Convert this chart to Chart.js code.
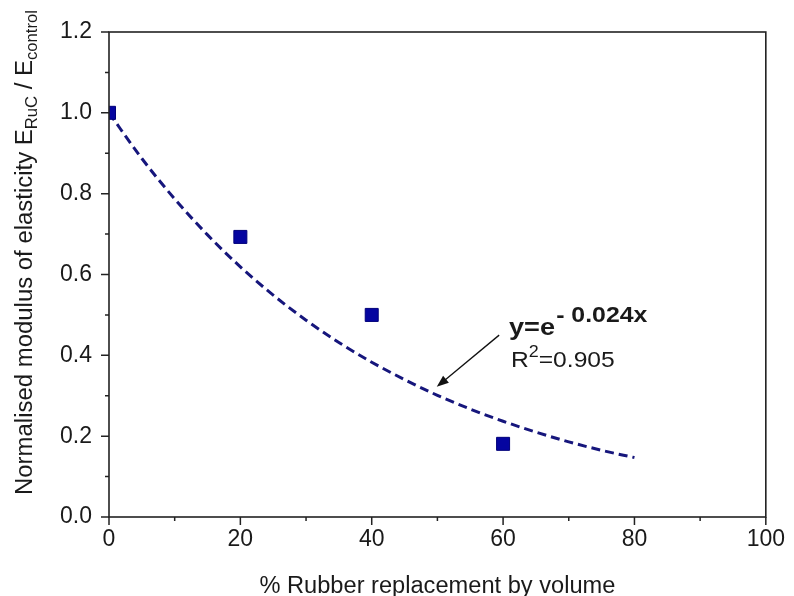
<!DOCTYPE html>
<html>
<head>
<meta charset="utf-8">
<script src="https://cdn.jsdelivr.net/npm/chart.js@4/dist/chart.umd.min.js"></script>
<style>
  html, body { margin: 0; padding: 0; background: #fff; }
  #wrap { width: 794px; height: 596px; }
</style>
</head>
<body>
<div id="wrap"><canvas id="c" width="794" height="596"></canvas></div>
<script>
// Measured points
const rubberPct = [0, 20, 40, 60];
const normModulus = [1.00, 0.693, 0.50, 0.181];

// Fitted curve
const fitX = [0, 5, 10, 15, 20, 25, 30, 35, 40, 45, 50, 55, 60, 65, 70, 75, 80];
const fitY = [1.000, 0.887, 0.787, 0.698, 0.619, 0.549, 0.487, 0.432, 0.383, 0.340, 0.301, 0.267, 0.237, 0.210, 0.186, 0.165, 0.147];

// Tick labels
const xMajorTicks = [0, 20, 40, 60, 80, 100];
const xMinorTicks = [10, 30, 50, 70, 90];
const yMajorTicks = [0.0, 0.2, 0.4, 0.6, 0.8, 1.0, 1.2];
const yMinorTicks = [0.1, 0.3, 0.5, 0.7, 0.9, 1.1];

// Text
const xTitle = '% Rubber replacement by volume';
const yTitleParts = [
  { t: 'Normalised modulus of elasticity E', sub: false },
  { t: 'RuC', sub: true },
  { t: ' / E', sub: false },
  { t: 'control', sub: true }
];
const eqMain = 'y=e';
const eqExp = '- 0.024x';
const r2Main = 'R';
const r2Sup = '2';
const r2Rest = '=0.905';
// annotation anchors in data units
const eqAnchor = { x: 60.9, y: 0.45 };
const r2Anchor = { x: 61.2, y: 0.371 };
const arrowFrom = { x: 59.4, y: 0.45 };
const arrowTo = { x: 49.9, y: 0.322 };

const FONT = '"Liberation Sans", Arial, sans-serif';
const TEXT = '#1a1a1a';
const AXIS = '#222';

const points = rubberPct.map((x, i) => ({ x, y: normModulus[i] }));
const fit = fitX.map((x, i) => ({ x, y: fitY[i] }));

const decor = {
  id: 'decor',
  afterDatasetsDraw(chart) {
    const ctx = chart.ctx;
    const a = chart.chartArea;
    const xs = chart.scales.x, ys = chart.scales.y;
    ctx.save();
    // frame
    ctx.strokeStyle = AXIS;
    ctx.lineWidth = 1.6;
    ctx.strokeRect(a.left, a.top, a.right - a.left, a.bottom - a.top);
    // ticks
    ctx.lineWidth = 1.5;
    ctx.beginPath();
    xMajorTicks.forEach(v => { const p = xs.getPixelForValue(v); ctx.moveTo(p, a.bottom); ctx.lineTo(p, a.bottom + 8); });
    xMinorTicks.forEach(v => { const p = xs.getPixelForValue(v); ctx.moveTo(p, a.bottom); ctx.lineTo(p, a.bottom + 4); });
    yMajorTicks.forEach(v => { const p = ys.getPixelForValue(v); ctx.moveTo(a.left, p); ctx.lineTo(a.left - 8, p); });
    yMinorTicks.forEach(v => { const p = ys.getPixelForValue(v); ctx.moveTo(a.left, p); ctx.lineTo(a.left - 4, p); });
    ctx.stroke();

    // x title
    ctx.fillStyle = TEXT;
    ctx.font = '23px ' + FONT;
    ctx.textBaseline = 'alphabetic';
    const xw = ctx.measureText(xTitle).width;
    const xTarget = 356;
    const xsx = xTarget / xw;
    ctx.save();
    ctx.translate((a.left + a.right) / 2 - xTarget / 2, 593);
    ctx.scale(xsx, 1);
    ctx.textAlign = 'left';
    ctx.fillText(xTitle, 0, 0);
    ctx.restore();

    // y title (rotated, with subscripts)
    const mainF = '23px ' + FONT, subF = '16px ' + FONT;
    let total = 0;
    yTitleParts.forEach(p => { ctx.font = p.sub ? subF : mainF; total += ctx.measureText(p.t).width; });
    const yTarget = 485;
    const ysx = yTarget / total;
    ctx.save();
    ctx.translate(32, 495);
    ctx.rotate(-Math.PI / 2);
    ctx.scale(ysx, 1);
    ctx.textAlign = 'left';
    let cx = 0;
    yTitleParts.forEach(p => {
      ctx.font = p.sub ? subF : mainF;
      ctx.fillText(p.t, cx, p.sub ? 5 : 0);
      cx += ctx.measureText(p.t).width;
    });
    ctx.restore();

    // equation annotation
    const ex = xs.getPixelForValue(eqAnchor.x), ey = ys.getPixelForValue(eqAnchor.y);
    ctx.save();
    ctx.translate(ex, ey);
    ctx.scale(1.13, 1);
    ctx.font = 'bold 24px ' + FONT;
    ctx.fillText(eqMain, 0, 0);
    const w1 = ctx.measureText(eqMain).width;
    ctx.font = 'bold 22px ' + FONT;
    ctx.fillText(eqExp, w1 + 1, -13);
    ctx.restore();

    const rx = xs.getPixelForValue(r2Anchor.x), ry = ys.getPixelForValue(r2Anchor.y);
    ctx.save();
    ctx.translate(rx, ry);
    ctx.scale(1.12, 1);
    ctx.font = '22px ' + FONT;
    ctx.fillText(r2Main, 0, 0);
    let rw = ctx.measureText(r2Main).width;
    ctx.font = '16px ' + FONT;
    ctx.fillText(r2Sup, rw, -10);
    rw += ctx.measureText(r2Sup).width;
    ctx.font = '22px ' + FONT;
    ctx.fillText(r2Rest, rw, 0);
    ctx.restore();

    // arrow
    const ax0 = xs.getPixelForValue(arrowFrom.x), ay0 = ys.getPixelForValue(arrowFrom.y);
    const ax1 = xs.getPixelForValue(arrowTo.x), ay1 = ys.getPixelForValue(arrowTo.y);
    const ang = Math.atan2(ay1 - ay0, ax1 - ax0);
    const hl = 12, hw = 4.5;
    ctx.strokeStyle = '#111';
    ctx.lineWidth = 1.3;
    ctx.beginPath();
    ctx.moveTo(ax0, ay0);
    ctx.lineTo(ax1 - Math.cos(ang) * hl * 0.8, ay1 - Math.sin(ang) * hl * 0.8);
    ctx.stroke();
    ctx.fillStyle = '#111';
    ctx.beginPath();
    ctx.moveTo(ax1, ay1);
    ctx.lineTo(ax1 - Math.cos(ang) * hl - Math.sin(ang) * hw, ay1 - Math.sin(ang) * hl + Math.cos(ang) * hw);
    ctx.lineTo(ax1 - Math.cos(ang) * hl + Math.sin(ang) * hw, ay1 - Math.sin(ang) * hl - Math.cos(ang) * hw);
    ctx.closePath();
    ctx.fill();
    ctx.restore();
  }
};

new Chart(document.getElementById('c'), {
  type: 'scatter',
  data: {
    datasets: [
      {
        label: 'fit',
        data: fit,
        showLine: true,
        borderColor: '#16167c',
        borderWidth: 3,
        borderDash: [9, 5],
        pointRadius: 0,
        cubicInterpolationMode: 'monotone',
        order: 2
      },
      {
        label: 'measured',
        data: points,
        pointStyle: 'rect',
        pointRadius: 9.2,
        backgroundColor: '#0505a0',
        borderColor: '#00007a',
        borderWidth: 1,
        order: 1
      }
    ]
  },
  options: {
    responsive: false,
    animation: false,
    devicePixelRatio: 1,
    layout: { padding: { left: 0, right: 22, top: 32, bottom: 0 } },
    plugins: { legend: { display: false }, tooltip: { enabled: false } },
    scales: {
      x: {
        type: 'linear', min: 0, max: 100,
        afterFit: s => { s.height = 79; },
        afterBuildTicks: s => { s.ticks = xMajorTicks.map(v => ({ value: v })); },
        grid: { display: false, drawTicks: false },
        border: { display: false },
        ticks: { padding: 9, color: TEXT, font: { family: FONT, size: 23 }, maxRotation: 0, callback: v => String(v) }
      },
      y: {
        type: 'linear', min: 0, max: 1.2,
        afterFit: s => { s.width = 109; },
        afterBuildTicks: s => { s.ticks = yMajorTicks.map(v => ({ value: v })); },
        grid: { display: false, drawTicks: false },
        border: { display: false },
        ticks: { padding: 17, color: TEXT, font: { family: FONT, size: 23 }, callback: v => Number(v).toFixed(1) }
      }
    }
  },
  plugins: [decor]
});
</script>
</body>
</html>
